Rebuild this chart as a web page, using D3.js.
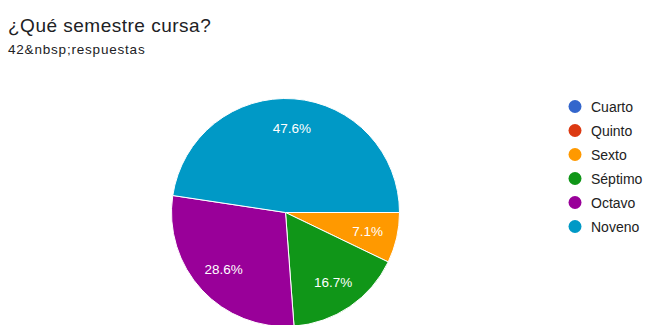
<!DOCTYPE html>
<html><head><meta charset="utf-8">
<script src="https://cdn.jsdelivr.net/npm/d3@7"></script>
<style>body{margin:0;background:#fff;}svg{display:block;}</style>
</head><body>
<script>
const categories = ["Cuarto","Quinto","Sexto","Séptimo","Octavo","Noveno"];
const counts = [0,0,3,7,12,20];
const colors = ["#3366cc","#dc3912","#ff9900","#109618","#990099","#0099c6"];
const title = "¿Qué semestre cursa?";
const subtitle = "42&nbsp;respuestas";

const W=645,H=325;
const FONT="'Liberation Sans', Arial, sans-serif";
const svg=d3.select("body").append("svg").attr("width",W).attr("height",H);
svg.append("text").attr("x",8).attr("y",31.5).attr("font-family",FONT)
  .attr("font-size",19).attr("letter-spacing",0.5).attr("fill","#202124").text(title);
svg.append("text").attr("x",8).attr("y",54).attr("font-family",FONT)
  .attr("font-size",13.5).attr("letter-spacing",0.8).attr("fill","#202124").text(subtitle);

const cx=285.5,cy=212.5,r=114;
const total=d3.sum(counts);
const data=categories.map((c,i)=>({c,v:counts[i],col:colors[i]}));
const pie=d3.pie().value(d=>d.v).sort(null).startAngle(Math.PI/2).endAngle(Math.PI/2+2*Math.PI);
const arcs=pie(data);
const arc=d3.arc().innerRadius(0).outerRadius(r);
const g=svg.append("g").attr("transform",`translate(${cx},${cy})`);
g.selectAll("path").data(arcs.filter(a=>a.data.v>0)).join("path")
  .attr("d",arc).attr("fill",d=>d.data.col).attr("stroke","#fff").attr("stroke-width",1);
const lr=0.74*r;
const larc=d3.arc().innerRadius(lr).outerRadius(lr);
g.selectAll("text").data(arcs.filter(a=>a.data.v>0)).join("text")
  .attr("transform",d=>`translate(${larc.centroid(d)})`)
  .attr("text-anchor","middle").attr("dominant-baseline","central")
  .attr("font-family",FONT).attr("font-size",13.5).attr("fill","#fff")
  .text(d=>(d.data.v/total*100).toFixed(1)+"%");

const leg=svg.append("g");
const rows=leg.selectAll("g").data(data).join("g")
  .attr("transform",(d,i)=>`translate(575,${106.5+i*24})`);
rows.append("circle").attr("r",6.5).attr("fill",d=>d.col);
rows.append("text").attr("x",16).attr("dominant-baseline","central")
  .attr("font-family",FONT).attr("font-size",14).attr("fill","#222")
  .text(d=>d.c);
</script>
</body></html>
